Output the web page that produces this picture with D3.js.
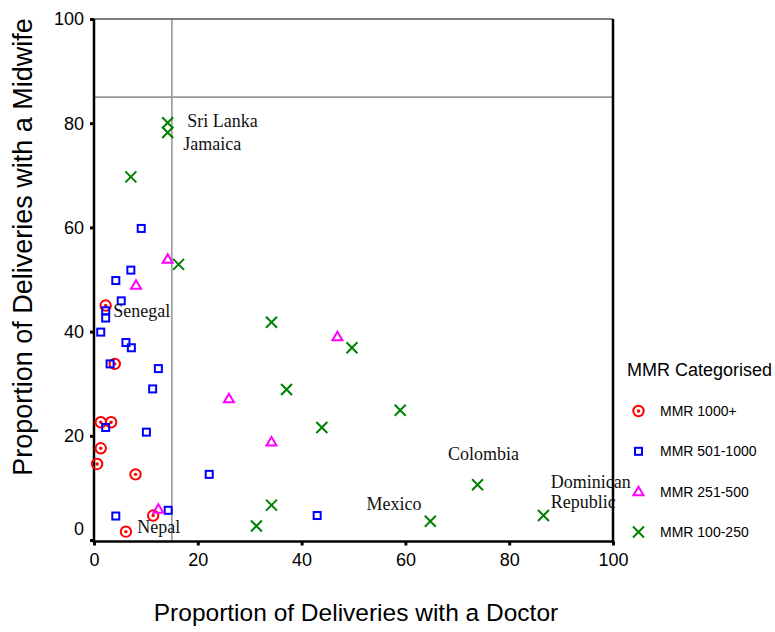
<!DOCTYPE html>
<html>
<head>
<meta charset="utf-8">
<script src="https://cdn.jsdelivr.net/npm/d3@7"></script>
<style>
html, body { margin: 0; padding: 0; background: #fff; }
svg { display: block; }
</style>
</head>
<body>
<svg id="chart" width="775" height="632"></svg>
<script>
// ---- data ----
const categories = ["MMR 1000+", "MMR 501-1000", "MMR 251-500", "MMR 100-250"];
const mmr1000 = [[2.25,45.0],[4.0,33.8],[1.3,22.6],[3.3,22.6],[1.3,17.6],[0.6,14.6],[8.0,12.6],[11.4,4.7],[6.15,1.6]];
const mmr501 = [[7.1,51.8],[4.2,49.8],[5.25,45.9],[2.25,44.0],[2.25,42.6],[1.3,39.9],[6.15,37.9],[7.2,36.9],[3.1,33.8],[12.4,32.9],[11.3,29.0],[9.1,59.8],[2.25,21.6],[10.1,20.7],[22.2,12.6],[14.3,5.7],[4.2,4.6],[43.0,4.7]];
const mmr251 = [[14.2,53.9],[8.1,48.9],[12.4,5.9],[46.9,39.0],[26.0,27.1],[34.2,18.8]];
const mmr100 = [[14.2,80.1],[14.2,78.2],[7.1,69.7],[16.3,52.9],[34.2,41.8],[49.7,36.9],[37.1,28.9],[59.0,24.9],[43.9,21.6],[34.2,6.7],[31.3,2.7],[64.8,3.6],[73.9,10.6],[86.6,4.7]];
const seriesValues = [mmr1000, mmr501, mmr251, mmr100];
const ticks = [0, 20, 40, 60, 80, 100];
const refX = 15, refY = 85;
// country annotations: [label, doctor %, midwife %] (text start, baseline)
const annotations = [["Sri Lanka",17.95,79.3],["Jamaica",17.2,74.8],["Senegal",3.7,42.8],["Nepal",8.35,1.25],["Mexico",52.5,5.76],["Colombia",68.2,15.3],["Dominican",88.0,9.92],["Republic",88.0,6.08]];
const xTitle = "Proportion of Deliveries with a Doctor";
const yTitle = "Proportion of Deliveries with a Midwife";
const legendTitle = "MMR Categorised";

// ---- drawing ----
const svg = d3.select("#chart");
svg.append("rect").attr("width", 775).attr("height", 632).attr("fill", "#fff");

const x = d3.scaleLinear().domain([0, 100]).range([94, 613]);
const y = d3.scaleLinear().domain([0, 100]).range([540, 19]);

const colors = ["#ff0000", "#0000ff", "#ff00ff", "#008000"];

// reference lines
svg.append("line").attr("x1", x(refX)).attr("x2", x(refX)).attr("y1", y(100)).attr("y2", 541)
  .attr("stroke", "#999").attr("stroke-width", 1.6);
svg.append("line").attr("x1", x(0)).attr("x2", x(100)).attr("y1", y(refY)).attr("y2", y(refY))
  .attr("stroke", "#999").attr("stroke-width", 1.6);

// frame: top and right
svg.append("line").attr("x1", x(0)).attr("x2", x(100)).attr("y1", y(100)).attr("y2", y(100))
  .attr("stroke", "#555").attr("stroke-width", 1.5);
svg.append("line").attr("x1", x(100)).attr("x2", x(100)).attr("y1", y(100)).attr("y2", 542.5)
  .attr("stroke", "#000").attr("stroke-width", 2.5);

// axes
const yAxis = d3.axisLeft(y).tickValues(ticks).tickSize(4).tickPadding(6);
const gy = svg.append("g").attr("transform", `translate(${x(0)},0)`).call(yAxis);
gy.select(".domain").remove();
gy.selectAll(".tick line").attr("stroke", "#000").attr("stroke-width", 3);
gy.selectAll(".tick text").attr("font-family", "Liberation Sans, Arial, sans-serif")
  .attr("font-size", 18).attr("fill", "#000")
  .attr("dy", d => d === 0 ? "-0.3em" : "0.33em");
svg.append("line").attr("x1", x(0)).attr("x2", x(0)).attr("y1", y(100)).attr("y2", 542.5)
  .attr("stroke", "#000").attr("stroke-width", 2.5);

const xAxis = d3.axisBottom(x).tickValues(ticks).tickSize(4).tickPadding(8);
const gx = svg.append("g").attr("transform", `translate(0,541.5)`).call(xAxis);
gx.select(".domain").remove();
gx.selectAll(".tick line").attr("stroke", "#000").attr("stroke-width", 3);
gx.selectAll(".tick text").attr("font-family", "Liberation Sans, Arial, sans-serif")
  .attr("font-size", 18).attr("fill", "#000");
svg.append("line").attr("x1", x(0) - 1.2).attr("x2", x(100) + 1.2).attr("y1", 541.5).attr("y2", 541.5)
  .attr("stroke", "#000").attr("stroke-width", 2.5);

// axis titles
svg.append("text").attr("x", 356).attr("y", 621).attr("text-anchor", "middle")
  .attr("font-family", "Liberation Sans, Arial, sans-serif").attr("font-size", 24.5).attr("fill", "#000")
  .text(xTitle);
svg.append("text").attr("transform", "translate(32,247) rotate(-90)").attr("text-anchor", "middle")
  .attr("font-family", "Liberation Sans, Arial, sans-serif").attr("font-size", 27).attr("fill", "#000")
  .text(yTitle);

// marker drawers
function drawMarker(g, k, cx, cy) {
  const c = colors[k];
  if (k === 0) {
    g.append("circle").attr("cx", cx).attr("cy", cy).attr("r", 5.2).attr("fill", "none").attr("stroke", c).attr("stroke-width", 2);
    g.append("circle").attr("cx", cx).attr("cy", cy).attr("r", 1.7).attr("fill", c);
  } else if (k === 1) {
    g.append("rect").attr("x", cx - 3.5).attr("y", cy - 3.5).attr("width", 7).attr("height", 7)
      .attr("fill", "none").attr("stroke", c).attr("stroke-width", 2);
  } else if (k === 2) {
    g.append("path").attr("d", `M${cx},${cy - 5} L${cx + 5},${cy + 3.5} L${cx - 5},${cy + 3.5} Z`)
      .attr("fill", "none").attr("stroke", c).attr("stroke-width", 2).attr("stroke-linejoin", "miter");
  } else {
    const s = 5.5;
    g.append("path").attr("d", `M${cx - s},${cy - s} L${cx + s},${cy + s} M${cx - s},${cy + s} L${cx + s},${cy - s}`)
      .attr("fill", "none").attr("stroke", c).attr("stroke-width", 2);
  }
}

const pts = svg.append("g");
seriesValues.forEach((arr, k) => {
  arr.forEach(d => drawMarker(pts, k, x(d[0]), y(d[1])));
});

// annotations
svg.append("g").selectAll("text").data(annotations).join("text")
  .attr("x", d => x(d[1])).attr("y", d => y(d[2]))
  .attr("font-family", "Liberation Serif, Times New Roman, serif").attr("font-size", 18).attr("fill", "#111")
  .text(d => d[0]);

// legend
const lg = svg.append("g");
lg.append("text").attr("x", 627).attr("y", 375.5).attr("font-family", "Liberation Sans, Arial, sans-serif")
  .attr("font-size", 18).attr("fill", "#000").text(legendTitle);
const legendY = d3.scalePoint().domain(categories).range([411, 532]);
categories.forEach((cat, k) => {
  drawMarker(lg, k, 638.5, legendY(cat));
  lg.append("text").attr("x", 660).attr("y", legendY(cat) + 5)
    .attr("font-family", "Liberation Sans, Arial, sans-serif").attr("font-size", 14).attr("fill", "#000")
    .text(cat);
});
</script>
</body>
</html>
